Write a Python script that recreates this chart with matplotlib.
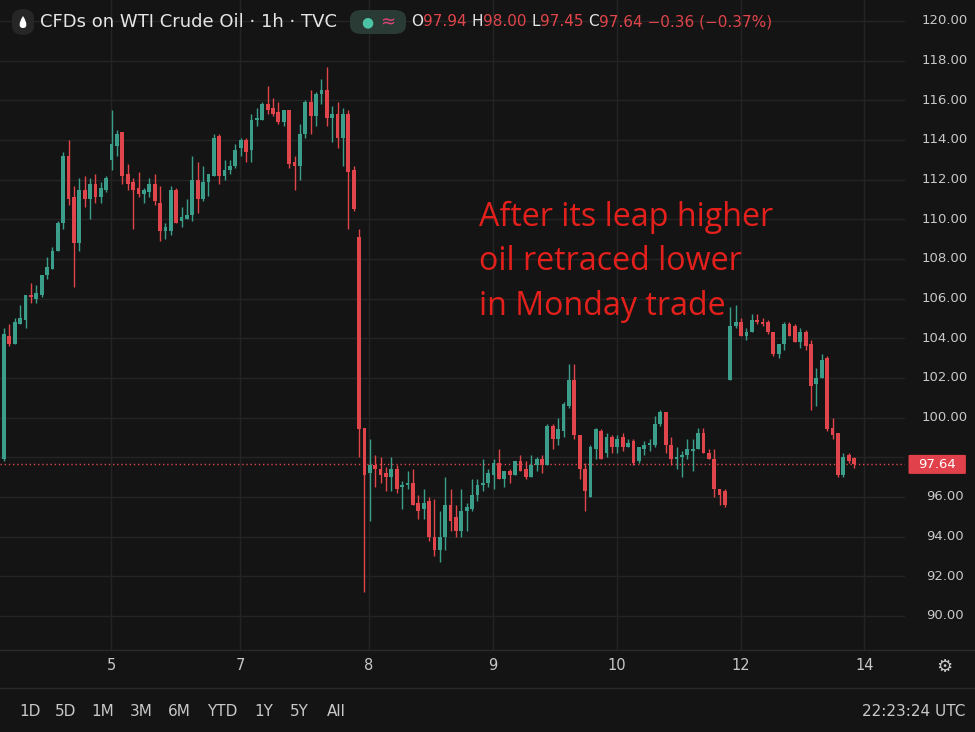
import matplotlib
matplotlib.use("Agg")
import matplotlib.pyplot as plt
from matplotlib.patches import Rectangle, FancyBboxPatch, PathPatch
from matplotlib.path import Path

# hourly candles (O, H, L, C)
opens = [97.9,104.1,103.7,104.7,104.9,106.2,106.0,106.2,107.2,107.5,108.4,109.8,113.2,111.1,108.8,111.5,111.0,111.8,111.1,111.5,
         113.0,113.7,114.4,112.3,111.9,111.6,111.3,111.4,111.8,110.8,109.4,109.4,111.5,109.9,110.0,110.2,112.0,111.0,111.9,112.2,
         114.2,112.2,112.5,112.7,113.6,114.0,113.5,115.0,115.0,115.8,115.6,115.4,114.9,115.5,112.9,112.7,114.3,115.9,115.2,116.3,
         116.5,115.1,115.3,114.1,115.3,112.5,109.1,99.5,97.2,97.6,97.4,97.2,97.0,97.4,96.5,96.6,96.7,95.7,95.4,95.8,
         94.0,93.3,94.0,95.6,95.0,94.3,95.3,95.4,96.1,96.6,96.7,97.1,97.7,96.9,97.3,97.1,97.8,97.4,97.0,97.6,
         97.9,97.6,99.6,98.9,99.3,100.6,101.9,99.1,97.4,96.0,98.4,99.3,98.2,99.0,98.5,99.0,98.5,98.8,97.8,98.4,
         98.6,98.6,99.7,100.3,98.6,97.9,98.0,98.1,98.3,98.4,99.2,98.2,97.9,96.4,96.3,101.9,104.6,104.8,104.1,104.3,
         104.9,104.8,104.8,104.3,103.2,103.7,104.7,104.6,103.8,104.3,103.7,101.7,102.0,103.0,99.5,99.2,97.1,98.1,97.94]
highs = [104.5,104.7,105.0,105.7,106.2,106.8,106.7,107.2,108.1,108.6,109.9,113.4,114.0,111.7,112.1,112.2,112.1,112.3,111.9,112.2,
         115.5,114.5,114.4,112.8,112.1,112.4,111.6,112.1,112.3,111.7,109.8,111.7,111.6,110.6,111.0,113.2,112.9,112.7,112.3,114.3,
         114.3,113.0,113.0,113.8,114.1,114.1,115.3,115.6,115.9,116.7,116.1,115.9,115.5,115.5,113.2,114.8,116.0,116.5,116.4,117.1,
         117.7,115.7,115.9,115.6,115.5,112.7,109.5,99.5,98.9,98.1,98.0,97.5,98.0,97.6,96.8,97.3,97.4,96.1,96.4,96.0,
         95.9,95.3,97.0,96.4,95.6,96.4,95.7,96.9,96.9,97.9,97.4,97.9,98.4,97.3,97.4,97.8,98.1,97.8,98.1,98.0,
         98.1,99.7,99.7,100.0,100.8,102.7,102.7,99.1,97.7,98.6,99.5,99.4,99.2,99.1,99.1,99.2,98.9,98.9,98.5,98.8,
         98.9,100.1,100.4,100.3,99.0,98.5,98.3,98.9,98.9,99.5,99.5,98.4,98.4,96.4,96.4,105.6,105.7,105.0,104.5,105.2,
         105.2,105.0,104.9,104.3,103.7,104.8,104.8,104.7,104.5,104.4,103.9,102.5,103.2,103.1,100.0,99.2,98.2,98.2,98.00]
lows = [97.8,103.6,103.7,104.7,104.5,105.8,105.8,106.1,107.0,107.5,108.4,109.5,110.7,106.6,108.4,110.6,110.0,110.8,110.8,111.4,
        112.5,113.2,111.8,111.5,109.5,111.1,110.8,111.1,110.7,108.9,109.0,109.2,109.8,109.6,110.0,109.9,110.3,110.9,111.2,112.2,
        111.8,112.0,112.3,112.6,113.2,112.9,112.9,114.7,115.0,115.3,115.2,114.8,114.7,112.6,111.5,112.0,114.1,114.3,114.7,115.8,
        114.7,113.9,113.6,112.7,109.5,110.4,98.0,91.2,94.8,96.5,96.7,96.3,96.3,96.2,95.4,96.4,95.6,94.9,94.9,93.8,
        93.0,92.7,93.3,94.3,94.0,94.0,94.3,95.3,95.8,96.3,96.5,96.4,96.9,96.5,96.7,97.1,97.3,96.9,97.0,97.3,
        97.2,97.6,98.4,98.6,99.0,100.5,98.9,96.9,95.3,96.0,97.9,97.9,98.0,98.2,98.2,98.3,98.5,97.6,97.7,98.1,
        98.3,98.5,99.6,98.2,97.6,97.4,97.0,97.9,97.3,98.4,98.2,97.9,96.0,95.6,95.5,101.9,104.5,104.1,103.9,104.3,
        104.7,104.6,104.2,103.1,103.0,103.4,104.1,103.8,103.5,103.4,100.4,100.6,102.0,99.3,98.9,97.0,97.0,97.7,97.45]
closes = [104.2,103.7,104.8,105.0,106.2,106.1,106.3,107.2,107.6,108.4,109.8,113.2,111.0,108.8,111.5,111.0,111.8,111.1,111.6,112.1,
          113.8,114.3,112.2,111.8,111.5,111.3,111.5,111.8,110.9,109.4,109.6,111.5,109.8,110.1,110.2,112.0,111.0,111.9,112.3,114.1,
          112.2,112.5,112.7,113.5,114.0,113.4,115.0,115.1,115.8,115.5,115.3,114.9,115.5,112.8,112.7,114.3,115.9,115.2,116.3,116.5,
          115.1,115.3,114.1,115.3,112.4,110.5,99.4,97.1,97.6,97.4,97.1,97.0,97.4,96.4,96.6,96.7,95.6,95.3,95.7,94.0,
          93.3,94.0,95.6,94.8,94.3,95.3,95.5,96.1,96.6,96.7,97.2,97.7,96.9,97.3,97.1,97.8,97.3,97.0,97.6,97.9,
          97.6,99.6,98.9,99.4,100.7,101.9,99.1,97.4,96.3,98.5,99.4,97.9,99.0,98.5,98.9,98.5,98.7,97.7,98.5,98.6,
          98.7,99.7,100.3,98.6,97.9,98.0,98.1,98.4,98.4,99.2,98.2,97.9,96.4,96.1,95.6,104.6,104.8,104.1,104.3,104.9,
          104.8,104.7,104.3,103.2,103.7,104.7,104.1,103.8,104.3,103.6,101.6,102.0,102.9,99.4,99.1,97.1,98.0,97.8,97.64]

day_labels = ["5", "7", "8", "9", "10", "12", "14"]
day_pos = [19.9, 43.9, 67.8, 90.9, 113.9, 137.0, 159.9]
price_ticks = [90, 92, 94, 96, 98, 100, 102, 104, 106, 108, 110, 112, 114, 116, 118, 120]
last_price = 97.64
periods = ["1D", "5D", "1M", "3M", "6M", "YTD", "1Y", "5Y", "All"]
note_lines = ["After its leap higher", "oil retraced lower", "in Monday trade"]

BG = "#141414"
GRID = "#242424"
UP = "#3b9e8a"
DN = "#e0454b"
TXT = "#c8c8c8"

W, H = 975, 732
fig = plt.figure(figsize=(W/100, H/100), dpi=100, facecolor=BG)

def px(x0, y0, x1, y1):
    return [x0/W, 1-y1/H, (x1-x0)/W, (y1-y0)/H]

ax = fig.add_axes(px(0, 0, 905, 650))
ax.set_facecolor(BG)
ppu = 19.83
ax.set_ylim(120 - 629/ppu, 120 + 21/ppu)
ax.set_xlim(-4/5.38, 901/5.38)
for t in price_ticks:
    ax.axhline(t, color=GRID, lw=1, zorder=0)
for p in day_pos:
    ax.axvline(p, color=GRID, lw=1, zorder=0)
for s in ax.spines.values():
    s.set_visible(False)
ax.set_xticks([]); ax.set_yticks([])

bw = 0.7
for i, (o, h, l, c) in enumerate(zip(opens, highs, lows, closes)):
    col = UP if c >= o else DN
    ax.plot([i, i], [l, h], color=col, lw=1.0, solid_capstyle="butt", zorder=2)
    ax.add_patch(Rectangle((i - bw/2, min(o, c)), bw, max(abs(c - o), 0.06),
                           facecolor=col, edgecolor="none", zorder=3))
ax.axhline(last_price, color=DN, lw=1, ls=(0, (1, 2)), zorder=1)

for k, line in enumerate(note_lines):
    fig.text(479/W, 1 - (226 + 44.5*k)/H, line, color="#e3201b", fontsize=23.2,
             family="Open Sans", va="baseline", ha="left")

# right price axis
axr = fig.add_axes(px(905, 0, 975, 650))
axr.set_facecolor(BG); axr.set_xticks([]); axr.set_yticks([])
for s in axr.spines.values():
    s.set_visible(False)
axr.set_ylim(ax.get_ylim()); axr.set_xlim(0, 1)
for t in price_ticks:
    if abs(t - last_price) < 0.8:
        continue
    axr.text(0.57, t, f"{t:.2f}", color=TXT, fontsize=9.5, ha="center", va="center")
axr.add_patch(FancyBboxPatch((0.05, last_price - 0.48), 0.82, 0.96,
                             boxstyle="round,pad=0,rounding_size=0.03",
                             facecolor="#e0414a", edgecolor="none", mutation_aspect=1))
axr.text(0.46, last_price, f"{last_price:.2f}", color="white", fontsize=9.5,
         ha="center", va="center")

# bottom time axis
for lab, p in zip(day_labels, day_pos):
    x = (p * 5.38 + 4) / W
    fig.text(x, 1 - 666/H, lab, color=TXT, fontsize=10.5, ha="center", va="center")
fig.add_artist(plt.Line2D([0, 1], [1 - 650/H]*2, color="#2a2a2a", lw=1))
fig.add_artist(plt.Line2D([0, 1], [1 - 688/H]*2, color="#2a2a2a", lw=1))
fig.text(944/W, 1 - 667/H, "⚙", color=TXT, fontsize=13, ha="center", va="center")

xs = [30, 66, 103, 141, 179, 222, 264, 299, 336]
for lab, x in zip(periods, xs):
    fig.text(x/W, 1 - 711/H, lab, color=TXT, fontsize=11, ha="center", va="center")
fig.text(965/W, 1 - 711/H, "22:23:24 UTC", color=TXT, fontsize=11, ha="right", va="center")

# header
fig.patches.append(FancyBboxPatch((12/W, 1 - 35/H), 22/W, 26/H, boxstyle="round,pad=0,rounding_size=0.012",
                                  transform=fig.transFigure, facecolor="#262626", edgecolor="none"))
# drop icon shape
cx, cy = 23, 24
verts = [(cx, cy - 8), (cx + 4.5, cy - 1), (cx + 4.5, cy + 4), (cx, cy + 4), (cx - 4.5, cy + 4),
         (cx - 4.5, cy - 1), (cx, cy - 8)]
verts = [(vx/W, 1 - vy/H) for vx, vy in verts]
codes = [Path.MOVETO, Path.CURVE4, Path.CURVE4, Path.CURVE4, Path.CURVE4, Path.CURVE4, Path.CURVE4]
fig.patches.append(PathPatch(Path(verts, codes), transform=fig.transFigure,
                             facecolor="white", edgecolor="none"))
fig.text(40/W, 1 - 22/H, "CFDs on WTI Crude Oil · 1h · TVC", color="#e6e6e6",
         fontsize=13, ha="left", va="center")
fig.patches.append(FancyBboxPatch((350/W, 1 - 34/H), 56/W, 24/H, boxstyle="round,pad=0,rounding_size=0.012",
                                  transform=fig.transFigure, facecolor="#2a3b36", edgecolor="none"))
fig.text(367/W, 1 - 22/H, "●", color="#4cc3a5", fontsize=10, ha="center", va="center")
fig.text(388/W, 1 - 22/H, "≈", color="#e0457a", fontsize=13, ha="center", va="center")

fig.canvas.draw()
r = fig.canvas.get_renderer()
parts = [("O", "#e6e6e6"), ("97.94 ", DN), ("H", "#e6e6e6"), ("98.00 ", DN), ("L", "#e6e6e6"),
         ("97.45 ", DN), ("C", "#e6e6e6"), ("97.64 −0.36 (−0.37%)", DN)]
x = 411
for s, col in parts:
    t = fig.text(x/W, 1 - 22/H, s, color=col, fontsize=11, ha="left", va="center")
    bb = t.get_window_extent(r)
    x += bb.width

fig.savefig("out.png", dpi=100, facecolor=BG)
